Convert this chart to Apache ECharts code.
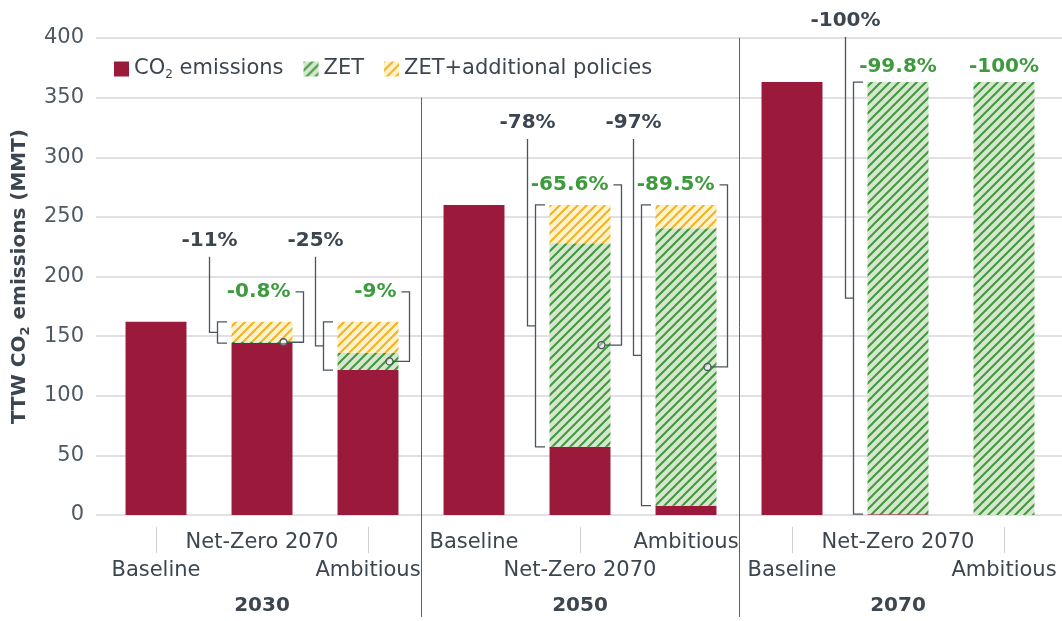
<!DOCTYPE html>
<html>
<head>
<meta charset="utf-8">
<script src="https://cdn.jsdelivr.net/npm/echarts@6/dist/echarts.min.js"></script>
<style>
  html, body { margin: 0; padding: 0; background: #fff; }
  #chart { width: 1062px; height: 621px; }
</style>
</head>
<body>
<div id="chart"></div>
<script>
// ---------------- DATA ----------------
const categories = ['Baseline', 'Net-Zero 2070', 'Ambitious',
                    'Baseline', 'Net-Zero 2070', 'Ambitious',
                    'Baseline', 'Net-Zero 2070', 'Ambitious'];
const years = ['2030', '2050', '2070'];
const co2Emissions = [162, 144.2, 121.5, 260, 57.2, 7.8, 363, 0.7, 0];
const zetValues = [0, 1.3, 14.6, 0, 170.6, 232.7, 0, 362.3, 363];
const additionalPolicies = [0, 16.5, 25.9, 0, 32.2, 19.5, 0, 0, 0];
const totalCutBars = [1, 2, 4, 5, 7];
const totalCutLabels = ['-11%', '-25%', '-78%', '-97%', '-100%'];
const zetCutBars = [1, 2, 4, 5, 7, 8];
const zetCutLabels = ['-0.8%', '-9%', '-65.6%', '-89.5%', '-99.8%', '-100%'];
const seriesNames = ['CO2 emissions', 'ZET', 'ZET+additional policies'];

// ---------------- LAYOUT / STYLE ----------------
const FONT = '"DejaVu Sans", "Noto Sans", sans-serif';
const TEXT = '#3c4650';
const GREEN_TEXT = '#3d9a3d';
const LINE = '#4b5560';
const RED = '#9b1a3c';
const grayLift = [81, 82, 61];
const greenLift = [30, 20, 15];
const connectorGroups = [0, 1];
const barFrac = 0.575;

function hatch(bg, fg) {
  const s = 9;
  const c = document.createElement('canvas');
  c.width = s; c.height = s;
  const ctx = c.getContext('2d');
  ctx.fillStyle = bg; ctx.fillRect(0, 0, s, s);
  ctx.strokeStyle = fg; ctx.lineWidth = 2; ctx.lineCap = 'square';
  ctx.beginPath();
  ctx.moveTo(0, s); ctx.lineTo(s, 0);
  ctx.moveTo(-2, 2); ctx.lineTo(2, -2);
  ctx.moveTo(s - 2, s + 2); ctx.lineTo(s + 2, s - 2);
  ctx.stroke();
  return { image: c, repeat: 'repeat' };
}
const greenPattern = hatch('#d7e7ce', '#3e9a3e');
const yellowPattern = hatch('#fff3cd', '#f4b223');

const chart = echarts.init(document.getElementById('chart'), null, { renderer: 'canvas' });

const option = {
  animation: false,
  backgroundColor: '#fff',
  textStyle: { fontFamily: FONT },
  grid: [
    { left: 103, right: 5, top: 38, bottom: 106 },
    { left: 88, right: 0, top: 38, bottom: 106 }
  ],
  legend: {
    left: 109, top: 52,
    itemWidth: 15, itemHeight: 15, itemGap: 20,
    icon: 'rect',
    data: seriesNames,
    formatter: n => n === 'CO2 emissions' ? 'CO{sub|2} emissions' : n,
    textStyle: {
      fontSize: 21, color: TEXT, fontFamily: FONT, lineHeight: 24,
      rich: { sub: { fontSize: 12, lineHeight: 12, verticalAlign: 'bottom', color: TEXT, fontFamily: FONT } }
    }
  },
  xAxis: [
    {
      type: 'category', gridIndex: 0, data: categories,
      axisLine: { show: false }, axisTick: { show: false },
      axisLabel: {
        interval: 0, margin: 14, fontSize: 21, lineHeight: 28, color: TEXT, fontFamily: FONT,
        hideOverlap: false,
        formatter: (v, i) => (i % 2 === 0 ? '\n' + v : v)
      }
    },
    { type: 'value', gridIndex: 1, show: false, min: 0, max: 1 }
  ],
  yAxis: [
    { type: 'value', gridIndex: 0, min: 0, max: 400, interval: 50, show: false, splitLine: { show: false } },
    {
      type: 'value', gridIndex: 1, min: 0, max: 400, interval: 50,
      axisLine: { show: false }, axisTick: { show: false },
      axisLabel: { margin: 12, fontSize: 21, color: '#4f5963', fontFamily: FONT },
      splitLine: { lineStyle: { color: '#d6d6dc', width: 1.5 } },
      name: 'TTW CO{sub|2} emissions (MMT)',
      nameLocation: 'middle', nameRotate: 90, nameGap: 64,
      nameTextStyle: {
        fontSize: 20, fontWeight: 'bold', color: TEXT, fontFamily: FONT, lineHeight: 24,
        rich: { sub: { fontSize: 13, lineHeight: 12, fontWeight: 'bold', verticalAlign: 'bottom', color: TEXT, fontFamily: FONT } }
      }
    }
  ],
  series: [
    { name: seriesNames[0], type: 'bar', stack: 's', xAxisIndex: 0, yAxisIndex: 0,
      barWidth: (barFrac * 100) + '%', data: co2Emissions, itemStyle: { color: RED } },
    { name: seriesNames[1], type: 'bar', stack: 's', xAxisIndex: 0, yAxisIndex: 0,
      barWidth: (barFrac * 100) + '%', data: zetValues, itemStyle: { color: greenPattern } },
    { name: seriesNames[2], type: 'bar', stack: 's', xAxisIndex: 0, yAxisIndex: 0,
      barWidth: (barFrac * 100) + '%', data: additionalPolicies, itemStyle: { color: yellowPattern } }
  ]
};
chart.setOption(option);

// ---------------- ANNOTATIONS (positions from the axes) ----------------
const cx = i => chart.convertToPixel({ xAxisIndex: 0 }, i);
const vy = v => chart.convertToPixel({ yAxisIndex: 0 }, v);
const band = cx(1) - cx(0);
const barW = band * barFrac;
const total = i => co2Emissions[i] + zetValues[i] + additionalPolicies[i];
const y0 = vy(0);
const g = [];
const lineStyle = { stroke: LINE, lineWidth: 1.3, fill: null };

// group separators
for (let k = 1; k < years.length; k++) {
  const x = Math.round((cx(3 * k - 1) + cx(3 * k)) / 2) + 0.5;
  const yTop = k === 1 ? vy(350) : vy(400);
  g.push({ type: 'line', shape: { x1: x, y1: yTop, x2: x, y2: y0 + 102 },
           style: { stroke: '#5a636c', lineWidth: 1 }, z: 10 });
}
// tick marks above lower-row labels
categories.forEach((c, i) => {
  if (i % 2 === 0) {
    const x = Math.round(cx(i)) + 0.5;
    g.push({ type: 'line', shape: { x1: x, y1: y0 + 12, x2: x, y2: y0 + 38 },
             style: { stroke: '#cfcfd4', lineWidth: 1 } });
  }
});
// year labels
years.forEach((yr, k) => {
  g.push({ type: 'text', x: cx(3 * k + 1), y: y0 + 91,
           style: { text: yr, fill: TEXT, font: 'bold 20px ' + FONT, align: 'center', verticalAlign: 'middle' } });
});
// total-cut brackets
totalCutBars.forEach((i, k) => {
  const grp = Math.floor(i / 3);
  const left = cx(i) - barW / 2;
  const top = vy(total(i));
  const bottom = vy(co2Emissions[i]);
  const lx = Math.round(left - 22.5) + 0.5;
  const bx = Math.round(left - 15) + 0.5;
  const tx = left - 4.5;
  const mid = (top + bottom) / 2;
  const ly = top - grayLift[grp];
  g.push({ type: 'text', x: lx, y: ly,
           style: { text: totalCutLabels[k], fill: TEXT, font: 'bold 20px ' + FONT, align: 'center', verticalAlign: 'middle' } });
  g.push({ type: 'polyline', shape: { points: [[lx, ly + 16], [lx, mid], [bx, mid]] }, style: lineStyle, z: 10 });
  g.push({ type: 'polyline', shape: { points: [[tx, top], [bx, top], [bx, bottom], [tx, bottom]] }, style: lineStyle, z: 10 });
});
// ZET-cut labels
zetCutBars.forEach((i, k) => {
  const grp = Math.floor(i / 3);
  const right = cx(i) + barW / 2;
  const top = vy(total(i));
  const gy = top - greenLift[grp];
  if (connectorGroups.indexOf(grp) >= 0) {
    const cy = vy(co2Emissions[i] + zetValues[i] / 2);
    const ex = Math.round(right + 11) + 0.5;
    const ccx = right - 9;
    g.push({ type: 'text', x: right - 2, y: gy,
             style: { text: zetCutLabels[k], fill: GREEN_TEXT, font: 'bold 20px ' + FONT, align: 'right', verticalAlign: 'middle' } });
    g.push({ type: 'polyline', shape: { points: [[right + 3, gy], [ex, gy], [ex, cy], [ccx + 3.5, cy]] }, style: lineStyle, z: 10 });
    g.push({ type: 'circle', shape: { cx: ccx, cy: cy, r: 3.5 }, style: { stroke: LINE, lineWidth: 1.3, fill: 'rgba(255,255,255,0.35)' }, z: 10 });
  } else {
    g.push({ type: 'text', x: cx(i), y: gy,
             style: { text: zetCutLabels[k], fill: GREEN_TEXT, font: 'bold 20px ' + FONT, align: 'center', verticalAlign: 'middle' } });
  }
});
chart.setOption({ graphic: g });
</script>
</body>
</html>
